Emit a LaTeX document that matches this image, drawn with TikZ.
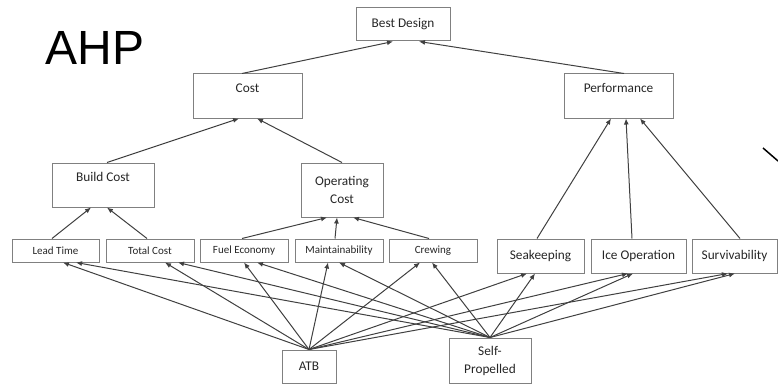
\documentclass[tikz,border=0pt]{standalone}
\usepackage{fontspec}
\setmainfont{Carlito}
\newfontfamily\ahpfont{Liberation Sans}
\usetikzlibrary{arrows.meta}

\begin{document}
\begin{tikzpicture}[x=1pt, y=-1pt, line width=1pt, draw=black!75,
        >={Latex[length=6pt,width=5pt]},
        box/.style={draw=black!50, inner sep=0pt, align=center, text=black!85,
            font=\fontsize{13.3}{16}\selectfont},
        smallbox/.style={box, font=\fontsize{11}{13}\selectfont, minimum height=23pt},
        topbox/.style={box, text height=9pt, text depth=16pt}]

        \useasboundingbox (0,0) rectangle (778,385);

        % Title
        \node[anchor=base west, inner sep=0pt, font=\ahpfont\fontsize{48}{50}\selectfont] at (45, 65) (ahp) {AHP};

        % Goal and criteria
        \node[box, minimum width=94pt, minimum height=33pt] at (403, 24.5) (best) {Best Design};
        \node[topbox, minimum width=109pt, minimum height=44pt] at (247.5, 96) (cost) {Cost};
        \node[topbox, minimum width=109pt, minimum height=44pt] at (618.5, 96) (perf) {Performance};
        \node[topbox, minimum width=102pt, minimum height=44pt] at (103, 185) (build) {Build Cost};
        \node[box, minimum width=82pt, minimum height=54pt] at (342, 190) (opcost) {Operating\\[2pt]Cost};

        % Sub-criteria
        \node[smallbox, minimum width=87pt] at (55.5, 250.5) (lead) {Lead Time};
        \node[smallbox, minimum width=88pt] at (150, 250.5) (total) {Total Cost};
        \node[smallbox, minimum width=88pt] at (244, 250.5) (fuel) {Fuel Economy};
        \node[smallbox, minimum width=88pt] at (339, 250.5) (maint) {Maintainability};
        \node[smallbox, minimum width=88pt] at (433, 250.5) (crew) {Crewing};
        \node[box, minimum width=87pt, minimum height=34pt] at (540.5, 256) (seak) {Seakeeping};
        \node[box, minimum width=95pt, minimum height=34pt] at (638.5, 256) (ice) {Ice Operation};
        \node[box, minimum width=85pt, minimum height=34pt] at (734.5, 256) (surv) {Survivability};

        % Alternatives
        \node[box, minimum width=54pt, minimum height=33pt] at (309, 366.5) (atb) {ATB};
        \node[box, minimum width=82pt, minimum height=45pt] at (490, 360.5) (self) {Self-\\[2pt]Propelled};

        % Hierarchy
        \draw[->] ([xshift=-5.5pt]cost.north) -- ([xshift=-10pt]best.south);
        \draw[->] ([xshift=5.5pt]perf.north) -- ([xshift=16pt]best.south);
        \draw[->] ([xshift=4pt]build.north) -- ([xshift=-8.5pt]cost.south);
        \draw[->] (opcost.north) -- ([xshift=9.5pt]cost.south);
        \draw[->] ([xshift=-3.5pt]lead.north) -- ([xshift=-12pt]build.south);
        \draw[->] ([xshift=-3pt]total.north) -- ([xshift=4pt]build.south);
        \draw[->] ([xshift=-2pt]fuel.north) -- ([xshift=-15pt]opcost.south);
        \draw[->] ([xshift=-4pt]maint.north) -- ([xshift=-5pt]opcost.south);
        \draw[->] ([xshift=-4pt]crew.north) -- ([xshift=11pt]opcost.south);
        \draw[->] ([xshift=-3.5pt]seak.north) -- ([xshift=-7.5pt]perf.south);
        \draw[->] ([xshift=-6.5pt]ice.north) -- ([xshift=7.5pt]perf.south);
        \draw[->] ([xshift=5.5pt]surv.north) -- ([xshift=21.5pt]perf.south);

        % ATB to sub-criteria
        \draw[->] (atb.north) -- ([xshift=7.5pt]lead.south);
        \draw[->] (atb.north) -- ([xshift=15pt]total.south);
        \draw[->] (atb.north) -- (fuel.south);
        \draw[->] (atb.north) -- ([xshift=-11pt]maint.south);
        \draw[->] (atb.north) -- ([xshift=-13pt]crew.south);
        \draw[->] (atb.north) -- ([xshift=-13.5pt]seak.south);
        \draw[->] (atb.north) -- ([xshift=-10.5pt]ice.south);
        \draw[->] (atb.north) -- ([xshift=-6.5pt]surv.south);

        % Self-Propelled to sub-criteria
        \draw[->] (self.north) -- ([xshift=20.5pt]lead.south);
        \draw[->] (self.north) -- ([xshift=28pt]total.south);
        \draw[->] (self.north) -- ([xshift=13pt]fuel.south);
        \draw[->] (self.north) -- (maint.south);
        \draw[->] (self.north) -- ([xshift=-1pt]crew.south);
        \draw[->] (self.north) -- ([xshift=-5.5pt]seak.south);
        \draw[->] (self.north) -- ([xshift=-5.5pt]ice.south);
        \draw[->] (self.north) -- ([xshift=0.5pt]surv.south);

        % stray mark at the right edge
        \draw[line width=1.5pt, black] (763, 148) -- (778, 161);

    \end{tikzpicture}
\end{document}
